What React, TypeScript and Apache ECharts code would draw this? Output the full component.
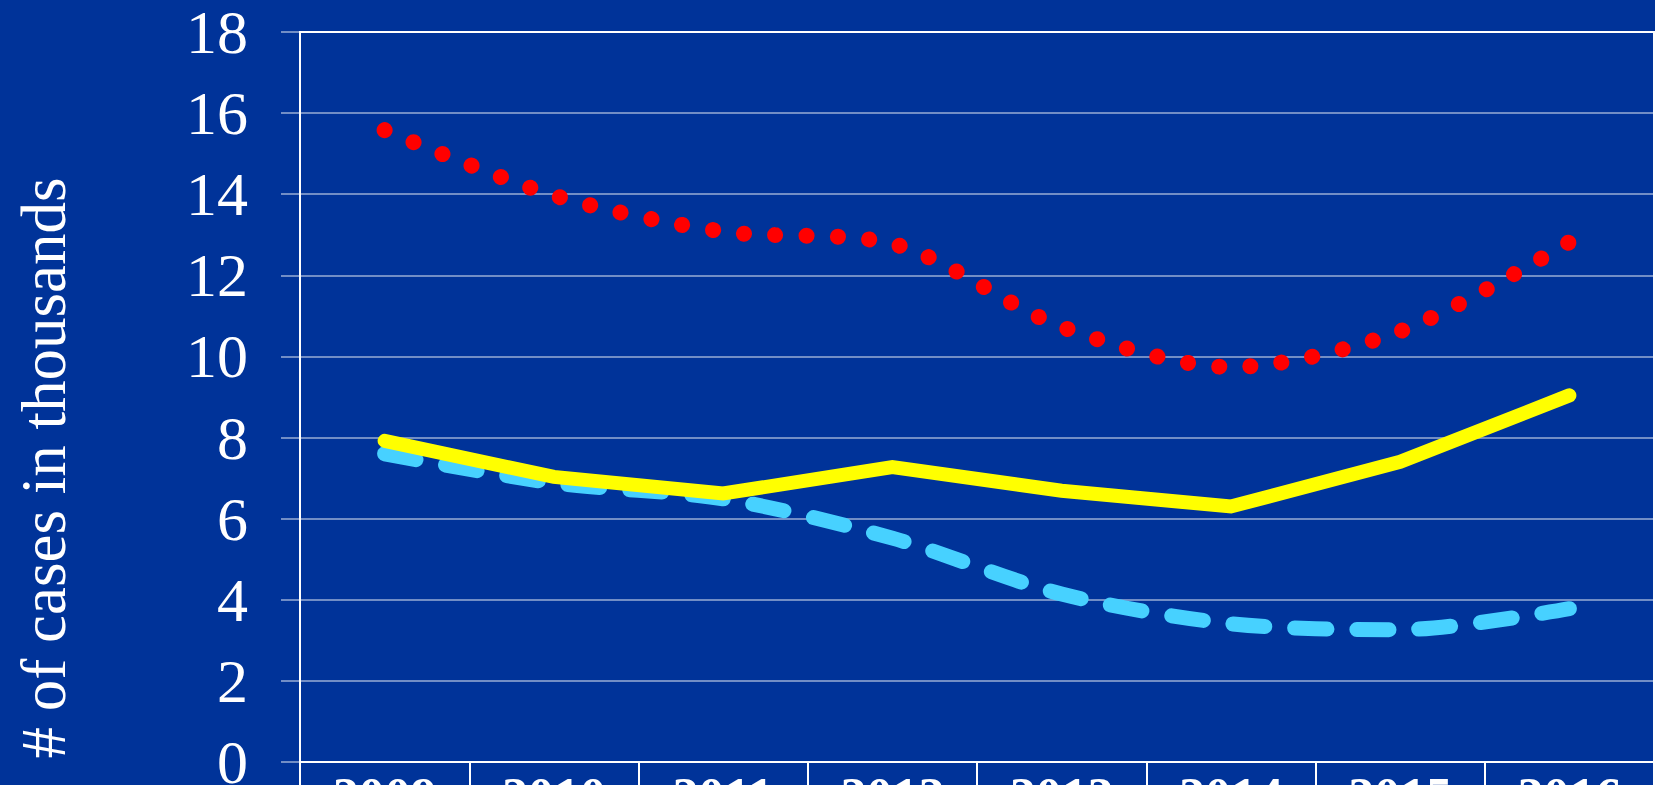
import React, { useEffect, useRef } from "react";
import * as echarts from "echarts";

const categories = ["2009", "2010", "2011", "2012", "2013", "2014", "2015", "2016"];
const redValues = [15.58, 13.97, 13.08, 12.78, 10.73, 9.74, 10.62, 12.82];
const yellowValues = [7.92, 7.03, 6.62, 7.27, 6.69, 6.3, 7.4, 9.04];
const cyanValues = [7.6, 6.88, 6.49, 5.52, 4.14, 3.41, 3.26, 3.78];
const yTicks = { min: 0, max: 18, interval: 2 };
const yTitle = "# of cases in thousands";

const BG = "#003399";
const GRID = "rgba(255,255,255,0.6)";
const SERIF = "'Liberation Serif', 'Times New Roman', serif";

export default function App() {
  const ref = useRef<HTMLDivElement>(null);
  useEffect(() => {
    if (!ref.current) return;
    const chart = echarts.init(ref.current, null, { renderer: "svg" });
    chart.setOption({
      animation: false,
      backgroundColor: BG,
      grid: {
        left: 300,
        top: 32,
        width: 1354,
        height: 730,
        outerBoundsMode: "none",
        containLabel: false,
        show: true,
        borderColor: "#ffffff",
        borderWidth: 2,
        backgroundColor: "transparent",
      },
      xAxis: {
        type: "category",
        data: categories,
        axisLine: { show: true, lineStyle: { color: "#ffffff", width: 2 } },
        axisTick: { show: true, length: 40, lineStyle: { color: "#ffffff", width: 2 } },
        axisLabel: {
          color: "#ffffff",
          fontFamily: SERIF,
          fontWeight: "bold",
          fontSize: 52,
          margin: 8,
        },
        splitLine: { show: false },
      },
      yAxis: {
        type: "value",
        min: yTicks.min,
        max: yTicks.max,
        interval: yTicks.interval,
        axisLine: { show: false },
        axisTick: { show: true, length: 19, lineStyle: { color: GRID, width: 1.5 } },
        axisLabel: {
          color: "#ffffff",
          fontFamily: SERIF,
          fontSize: 62,
          margin: 52,
        },
        splitLine: { show: true, lineStyle: { color: GRID, width: 1.5 } },
      },
      graphic: [
        {
          type: "text",
          x: 44,
          y: 468,
          rotation: Math.PI / 2,
          style: {
            text: yTitle,
            fill: "#ffffff",
            font: `63px ${SERIF}`,
            textAlign: "center",
            textVerticalAlign: "middle",
          },
        },
      ],
      series: [
        {
          type: "line",
          data: redValues,
          smooth: 0.3,
          symbol: "none",
          lineStyle: { color: "#ff0000", width: 16, type: [0.1, 31.2], cap: "round" },
          z: 2,
        },
        {
          type: "line",
          data: cyanValues,
          smooth: 0.3,
          symbol: "none",
          lineStyle: { color: "#47d1ff", width: 15, type: [32, 30], cap: "round" },
          z: 3,
        },
        {
          type: "line",
          data: yellowValues,
          smooth: false,
          symbol: "none",
          lineStyle: { color: "#ffff00", width: 14, cap: "round", join: "miter" },
          z: 4,
        },
      ],
    });
    return () => chart.dispose();
  }, []);
  return (
    <div
      ref={ref}
      style={{ position: "absolute", left: 0, top: 0, width: 1655, height: 785 }}
    />
  );
}
